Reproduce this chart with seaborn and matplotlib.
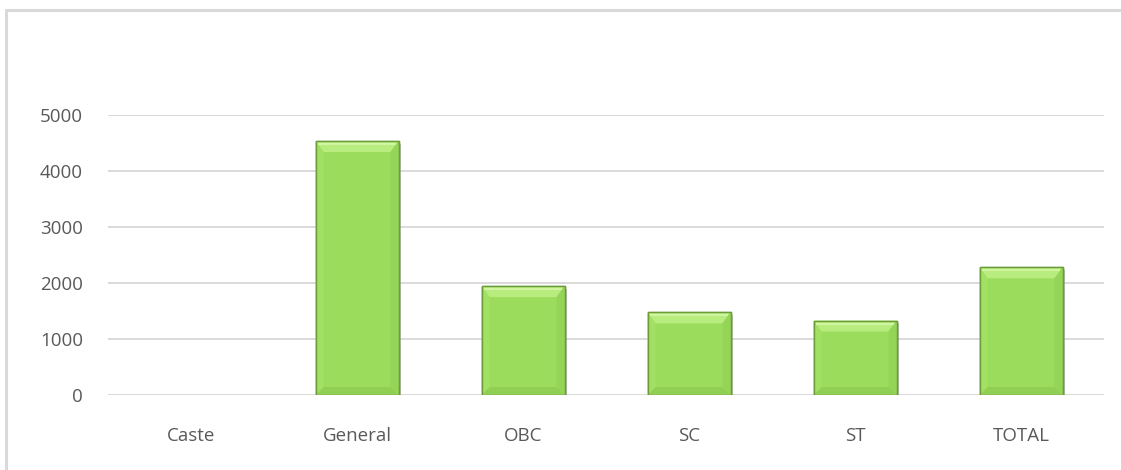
import matplotlib
matplotlib.use("Agg")
import matplotlib.pyplot as plt
import matplotlib.patheffects as pe
import seaborn as sns
import pandas as pd
from matplotlib.patches import Polygon
from matplotlib.lines import Line2D

categories = ["Caste", "General", "OBC", "SC", "ST", "TOTAL"]
values = [0, 4535, 1945, 1475, 1330, 2280]
y_ticks = [0, 1000, 2000, 3000, 4000, 5000]

W, H = 1121, 470
sns.set_theme(style="white")
plt.rcParams["font.family"] = ["Open Sans", "DejaVu Sans"]

fig = plt.figure(figsize=(W / 100, H / 100), dpi=100)
ax_left, ax_right, ax_top, ax_bottom = 108, 1104, 115, 395
ax = fig.add_axes([ax_left / W, 1 - ax_bottom / H,
                   (ax_right - ax_left) / W, (ax_bottom - ax_top) / H])

df = pd.DataFrame({"caste": categories, "value": values})
sns.barplot(data=df, x="caste", y="value", order=categories,
            color="#9CDC5C", saturation=1, width=0.5,
            edgecolor="#6B9B3A", linewidth=1.0, ax=ax, zorder=3)

ax.set_xlim(-0.5, len(categories) - 0.5)
ax.set_ylim(0, 5000)
ax.set_yticks(y_ticks)
ax.set_yticklabels([str(t) for t in y_ticks])
ax.set_xlabel("")
ax.set_ylabel("")
for s in ax.spines.values():
    s.set_visible(False)
ax.yaxis.grid(True, color="#D9D9D9", linewidth=1.4)
ax.xaxis.grid(False)
ax.set_axisbelow(True)
ax.tick_params(axis="both", length=0, labelcolor="#595959", labelsize=13.5)
ax.tick_params(axis="y", pad=18)
ax.tick_params(axis="x", pad=23)

# bevel facets on each bar, sized in pixels
px_x = (ax_right - ax_left) / (ax.get_xlim()[1] - ax.get_xlim()[0])
px_y = (ax_bottom - ax_top) / (ax.get_ylim()[1] - ax.get_ylim()[0])
bev_top, bev_side, bev_bot = 11, 8, 8
for p in ax.patches:
    h = p.get_height()
    if h <= 0:
        p.set_visible(False)
        continue
    p.set_path_effects([pe.SimplePatchShadow(offset=(2, -2), shadow_rgbFace="#808080", alpha=0.45),
                        pe.Normal()])
    x0 = p.get_x()
    x1 = x0 + p.get_width()
    y0, y1 = 0, h
    bx = bev_side / px_x
    bt = bev_top / px_y
    bb = bev_bot / px_y
    facets = [
        ([(x0, y1), (x1, y1), (x1 - bx, y1 - bt), (x0 + bx, y1 - bt)], "#B8EC7E"),
        ([(x0, y0), (x1, y0), (x1 - bx, y0 + bb), (x0 + bx, y0 + bb)], "#90CF53"),
        ([(x0, y0), (x0, y1), (x0 + bx, y1 - bt), (x0 + bx, y0 + bb)], "#A2E064"),
        ([(x1, y0), (x1, y1), (x1 - bx, y1 - bt), (x1 - bx, y0 + bb)], "#94D457"),
    ]
    for pts, col in facets:
        ax.add_patch(Polygon(pts, closed=True, facecolor=col, edgecolor="none", zorder=4))
    # highlight along the upper edge
    ax.plot([x0 + bx * 0.3, x1 - bx * 0.3], [y1 - 3 / px_y] * 2, color="#D0F5A0",
            linewidth=1.5, zorder=5, solid_capstyle="butt")
    ax.add_patch(Polygon([(x0, y0), (x0, y1), (x1, y1), (x1, y0)], closed=True,
                         facecolor="none", edgecolor="#6B9B3A", linewidth=1.0, zorder=6))

# chart area frame (top and left edges)
fig.add_artist(Line2D([6 / W, 1], [1 - 10 / H, 1 - 10 / H], transform=fig.transFigure,
                      color="#D9D9D9", linewidth=2.2))
fig.add_artist(Line2D([6 / W, 6 / W], [0, 1 - 10 / H], transform=fig.transFigure,
                      color="#D9D9D9", linewidth=2.2))

fig.savefig("out.png", dpi=100, facecolor="white")
